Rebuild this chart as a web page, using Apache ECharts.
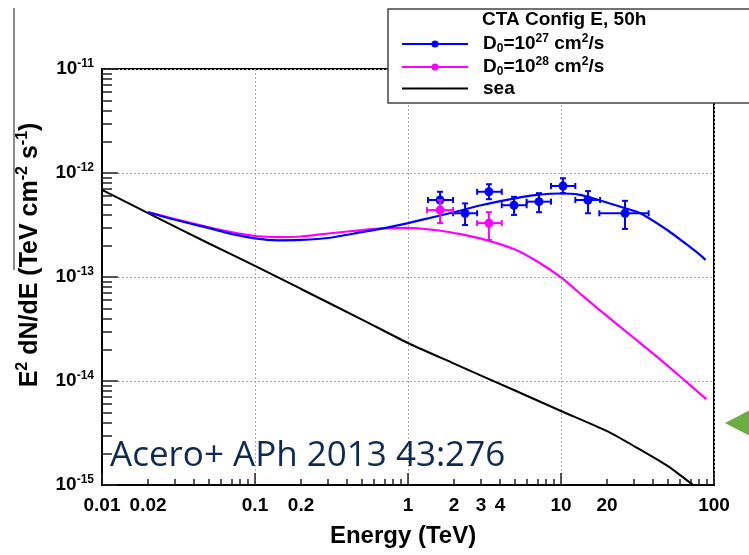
<!DOCTYPE html>
<html><head><meta charset="utf-8">
<script src="https://cdn.jsdelivr.net/npm/echarts@6/dist/echarts.min.js"></script>
<style>html,body{margin:0;padding:0;background:#fff}#c{width:749px;height:555px}</style>
</head><body><div id="c"></div>
<script>
// ---------- data ----------
const xTickLabels = [0.01, 0.02, 0.1, 0.2, 1, 2, 3, 4, 10, 20, 100];
const xMajorTicks = [0.01, 0.1, 1, 10, 100];
const xMinorTicks = [0.02,0.03,0.04,0.05,0.06,0.07,0.08,0.09,
                     0.2,0.3,0.4,0.5,0.6,0.7,0.8,0.9,
                     2,3,4,5,6,7,8,9,
                     20,30,40,50,60,70,80,90];
const yMajorTicks = [1e-15, 1e-14, 1e-13, 1e-12, 1e-11];
const yMinorTicks = [2e-15,3e-15,4e-15,5e-15,6e-15,7e-15,8e-15,9e-15,
                     2e-14,3e-14,4e-14,5e-14,6e-14,7e-14,8e-14,9e-14,
                     2e-13,3e-13,4e-13,5e-13,6e-13,7e-13,8e-13,9e-13,
                     2e-12,3e-12,4e-12,5e-12,6e-12,7e-12,8e-12,9e-12];

// sea (black)
const seaE = [0.01, 0.02, 0.05, 0.1, 0.2, 0.5, 1, 2, 5, 10, 20, 30, 50, 73, 100];
const seaV = [6.87e-13, 4.12e-13, 2.10e-13, 1.28e-13, 7.67e-14, 3.90e-14, 2.32e-14, 1.47e-14, 8.1e-15, 5.15e-15, 3.3e-15, 2.37e-15, 1.52e-15, 1.0e-15, 7.2e-16];

// D0 = 1e27 (blue)
const blueE = [0.02, 0.03, 0.05, 0.07, 0.1, 0.14, 0.2, 0.3, 0.5, 0.7, 1, 1.5, 2, 3, 5, 7, 10, 13, 17, 26, 33, 50, 65, 81, 88];
const blueV = [4.2e-13, 3.55e-13, 2.95e-13, 2.6e-13, 2.35e-13, 2.25e-13, 2.27e-13, 2.37e-13, 2.7e-13, 2.95e-13, 3.3e-13, 3.8e-13, 4.2e-13, 4.9e-13, 5.7e-13, 6.15e-13, 6.35e-13, 6.2e-13, 5.6e-13, 4.6e-13, 4.1e-13, 2.8e-13, 2.1e-13, 1.63e-13, 1.46e-13];

// D0 = 1e28 (magenta)
const magE = [0.02, 0.03, 0.05, 0.07, 0.1, 0.14, 0.2, 0.3, 0.5, 0.7, 1, 1.5, 2, 3, 5, 7, 10, 14, 20, 30, 45, 64, 89];
const magV = [4.2e-13, 3.6e-13, 3.0e-13, 2.7e-13, 2.48e-13, 2.42e-13, 2.45e-13, 2.62e-13, 2.82e-13, 2.93e-13, 2.97e-13, 2.83e-13, 2.65e-13, 2.34e-13, 1.84e-13, 1.41e-13, 9.9e-14, 6.5e-14, 4.2e-14, 2.59e-14, 1.59e-14, 1.02e-14, 6.7e-15];

// simulated CTA points (blue)
const bPtE   = [1.62, 2.36, 3.38, 4.93, 7.18, 10.3, 15.0, 26.2];
const bPtV   = [5.5e-13, 4.1e-13, 6.6e-13, 4.9e-13, 5.3e-13, 7.5e-13, 5.5e-13, 4.1e-13];
const bPtElo = [1.35, 1.97, 2.83, 4.1, 5.96, 8.6, 12.4, 17.8];
const bPtEhi = [1.97, 2.83, 4.1, 5.96, 8.6, 12.4, 18.0, 37.4];
const bPtVlo = [4.4e-13, 3.16e-13, 5.6e-13, 3.95e-13, 4.2e-13, 6.4e-13, 4.1e-13, 2.9e-13];
const bPtVhi = [6.6e-13, 5.1e-13, 7.8e-13, 5.9e-13, 6.4e-13, 8.9e-13, 6.7e-13, 5.4e-13];

// simulated CTA points (magenta)
const mPtE   = [1.62, 3.38];
const mPtV   = [4.4e-13, 3.3e-13];
const mPtElo = [1.33, 2.83];
const mPtEhi = [1.97, 4.1];
const mPtVlo = [3.3e-13, 2.27e-13];
const mPtVhi = [5.5e-13, 4.2e-13];

const legendTitle = 'CTA Config E, 50h';
const annotation = 'Acero+ APh 2013 43:276';

// ---------- build ----------
const F = "'Liberation Sans', Arial, Helvetica, sans-serif";
const zip = (a, b) => a.map((v, i) => [v, b[i]]);
const zipPts = (e, v, el, eh, vl, vh) => e.map((x, i) => [x, v[i], el[i], eh[i], vl[i], vh[i]]);

function tok(size, lh, va) {
  const o = {fontSize: size, fontWeight: 'bold', fontFamily: F, color: '#000', lineHeight: lh};
  if (va) o.verticalAlign = va;
  return o;
}

function renderErr(params, api) {
  const x = api.value(0), y = api.value(1);
  const c = api.coord([x, y]);
  const pl = api.coord([api.value(2), y]);
  const ph = api.coord([api.value(3), y]);
  const pb = api.coord([x, api.value(4)]);
  const pt = api.coord([x, api.value(5)]);
  const color = api.visual('color');
  const st = {stroke: color, lineWidth: 2};
  const cap = 3;
  return {type: 'group', children: [
    {type: 'line', shape: {x1: pl[0], y1: c[1], x2: ph[0], y2: c[1]}, style: st},
    {type: 'line', shape: {x1: c[0], y1: pb[1], x2: c[0], y2: pt[1]}, style: st},
    {type: 'line', shape: {x1: pl[0], y1: c[1] - cap, x2: pl[0], y2: c[1] + cap}, style: st},
    {type: 'line', shape: {x1: ph[0], y1: c[1] - cap, x2: ph[0], y2: c[1] + cap}, style: st},
    {type: 'line', shape: {x1: c[0] - cap, y1: pb[1], x2: c[0] + cap, y2: pb[1]}, style: st},
    {type: 'line', shape: {x1: c[0] - cap, y1: pt[1], x2: c[0] + cap, y2: pt[1]}, style: st},
    {type: 'circle', shape: {cx: c[0], cy: c[1], r: 4.5}, style: {fill: color}}
  ]};
}

const legendNames = {
  D27: '{gap| }{n|D}{sub|0}{n|=10}{sup|27}{n| cm}{sup|2}{n|/s}',
  D28: '{gap| }{n|D}{sub|0}{n|=10}{sup|28}{n| cm}{sup|2}{n|/s}',
  sea: '{gap| }{n|sea}'
};

const chart = echarts.init(document.getElementById('c'), null, {renderer: 'canvas'});
const xBase = {type: 'log', logBase: 10, min: 0.01, max: 100, gridIndex: 0, position: 'bottom'};
const yBase = {type: 'log', logBase: 10, min: 1e-15, max: 1e-11, gridIndex: 0, position: 'left'};

chart.setOption({
  animation: false,
  backgroundColor: '#fff',
  title: {
    text: legendTitle, left: 482, top: 10, padding: 0, z: 20,
    textStyle: {fontFamily: F, fontWeight: 'bold', fontSize: 19, color: '#000'}
  },
  legend: {
    orient: 'vertical', left: 401, top: 33, padding: 0, itemGap: 1, z: 20,
    itemWidth: 66, itemHeight: 9,
    data: [{name: 'D27'}, {name: 'D28'}, {name: 'sea', itemStyle: {opacity: 0}}],
    formatter: n => legendNames[n],
    textStyle: {
      fontFamily: F, fontWeight: 'bold', fontSize: 19, color: '#000',
      rich: {
        gap: {width: 10, fontSize: 19, lineHeight: 22},
        n: tok(19, 22),
        sup: tok(12, 8, 'top'),
        sub: tok(12, 8, 'bottom')
      }
    }
  },
  grid: {
    left: 102, right: 35, top: 69, bottom: 70,
    show: true, borderColor: '#000', borderWidth: 2, backgroundColor: '#fff',
    outerBoundsMode: 'none'
  },
  xAxis: [
    Object.assign({}, xBase, {
      name: 'Energy (TeV)', nameLocation: 'middle', nameGap: 39,
      nameTextStyle: {fontFamily: F, fontWeight: 'bold', fontSize: 24, color: '#000', padding: [0, 10, 0, 0]},
      axisLine: {show: true, lineStyle: {color: '#000', width: 2}},
      axisTick: {show: true, inside: true, length: 12, customValues: xMajorTicks, lineStyle: {color: '#222', width: 1.5}},
      axisLabel: {
        show: true, margin: 11, customValues: xTickLabels,
        fontFamily: F, fontWeight: 'bold', fontSize: 19, color: '#000',
        formatter: v => String(+(+v).toPrecision(6))
      },
      splitLine: {show: true, lineStyle: {color: '#aaa', type: [2, 2], width: 1}}
    }),
    Object.assign({}, xBase, {
      axisLine: {show: false},
      axisTick: {show: true, inside: true, length: 6, customValues: xMinorTicks, lineStyle: {color: '#222', width: 1.5}},
      axisLabel: {show: false},
      splitLine: {show: false}
    })
  ],
  yAxis: [
    Object.assign({}, yBase, {
      name: '{n|E}{sup|2}{n| dN/dE (TeV cm}{sup|-2}{n| s}{sup|-1}{n|)}',
      nameLocation: 'middle', nameGap: 57, nameRotate: 90,
      nameTextStyle: {
        fontFamily: F, fontWeight: 'bold', fontSize: 25, color: '#000',
        padding: [0, 0, 0, 44],
        rich: {n: tok(25, 30), sup: tok(16, 10, 'top')}
      },
      axisLine: {show: true, lineStyle: {color: '#000', width: 2}},
      axisTick: {show: true, inside: true, length: 16, customValues: yMajorTicks, lineStyle: {color: '#222', width: 1.5}},
      axisLabel: {
        show: true, margin: 8,
        formatter: v => '{b|10}{s|' + Math.round(Math.log10(v)) + '}',
        rich: {b: tok(19, 22), s: tok(12, 8, 'top')}
      },
      splitLine: {show: true, lineStyle: {color: '#aaa', type: [2, 2], width: 1}}
    }),
    Object.assign({}, yBase, {
      axisLine: {show: false},
      axisTick: {show: true, inside: true, length: 10, customValues: yMinorTicks, lineStyle: {color: '#222', width: 1.5}},
      axisLabel: {show: false},
      splitLine: {show: false}
    })
  ],
  series: [
    {name: 'sea', type: 'line', data: zip(seaE, seaV), smooth: 0.25, symbol: 'circle', showSymbol: false,
     lineStyle: {color: '#000', width: 2}, itemStyle: {color: '#000'}, z: 2},
    {name: 'D28', type: 'line', data: zip(magE, magV), smooth: 0.3, symbol: 'circle', showSymbol: false,
     lineStyle: {color: '#ff00ff', width: 2.2}, itemStyle: {color: '#ff00ff'}, z: 2},
    {name: 'D27', type: 'line', data: zip(blueE, blueV), smooth: 0.25, symbol: 'circle', showSymbol: false,
     lineStyle: {color: '#0000ff', width: 2.2}, itemStyle: {color: '#0000ff'}, z: 3},
    {name: 'pts27', type: 'custom', renderItem: renderErr, itemStyle: {color: '#0000ff'},
     encode: {x: [0, 2, 3], y: [1, 4, 5]}, data: zipPts(bPtE, bPtV, bPtElo, bPtEhi, bPtVlo, bPtVhi), z: 4},
    {name: 'pts28', type: 'custom', renderItem: renderErr, itemStyle: {color: '#ff00ff'},
     encode: {x: [0, 2, 3], y: [1, 4, 5]}, data: zipPts(mPtE, mPtV, mPtElo, mPtEhi, mPtVlo, mPtVhi), z: 5}
  ],
  graphic: [
    {type: 'rect', z: 10, shape: {x: 388, y: 9, width: 380, height: 94},
     style: {fill: '#fff', stroke: '#444', lineWidth: 1.5}},
    {type: 'line', z: 10, shape: {x1: 14, y1: 8, x2: 14, y2: 270},
     style: {stroke: '#8a8a8a', lineWidth: 2}},
    {type: 'polygon', z: 10, shape: {points: [[725, 423], [752, 409], [752, 437]]},
     style: {fill: '#6aae3e'}},
    {type: 'text', z: 10, left: 110, top: 439,
     style: {text: annotation, font: "normal 35px 'Open Sans', Lato, sans-serif", fill: '#0c2a52'}}
  ]
});
</script></body></html>
